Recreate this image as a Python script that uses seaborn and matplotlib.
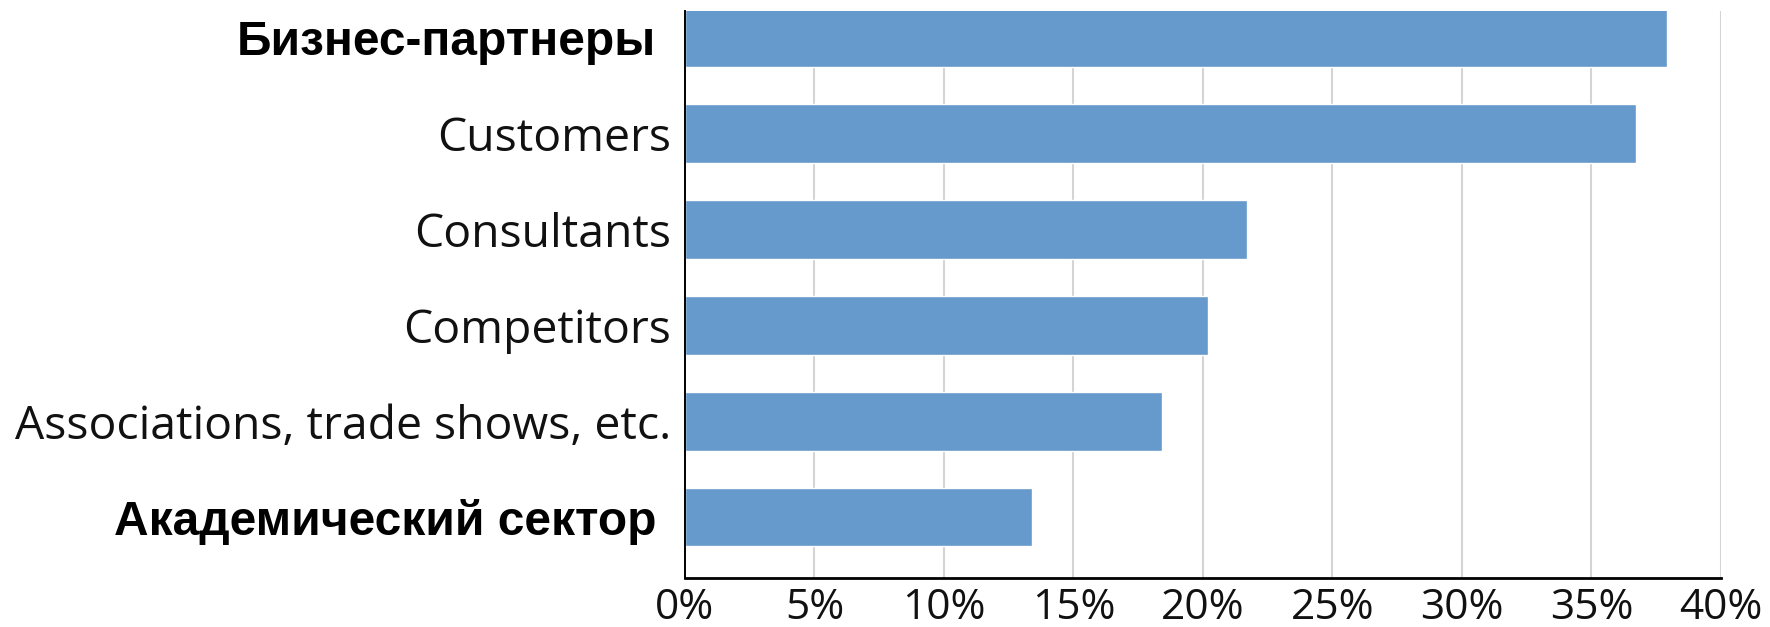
import matplotlib
matplotlib.use("Agg")
import matplotlib.pyplot as plt
import matplotlib.transforms as mtransforms
import seaborn as sns
import pandas as pd

# Sources of innovation ideas, share of respondents
categories = [
    "Бизнес-партнеры",
    "Customers",
    "Consultants",
    "Competitors",
    "Associations, trade shows, etc.",
    "Академический сектор",
]
shares = [37.9, 36.7, 21.7, 20.2, 18.4, 13.4]
x_ticks = [0, 5, 10, 15, 20, 25, 30, 35, 40]
x_tick_labels = [f"{t}%" for t in x_ticks]
bold_labels = {"Бизнес-партнеры", "Академический сектор"}

df = pd.DataFrame({"category": categories, "share": shares})

sns.set_theme(style="white")
plt.rcParams["font.family"] = ["Open Sans", "DejaVu Sans"]

fig = plt.figure(figsize=(17.7, 6.27), dpi=100)
ax = fig.add_axes([0.387, 0.0781, 0.5853, 0.9044])

sns.barplot(data=df, x="share", y="category", orient="h", color="#6699cc",
            saturation=1, width=0.61, ax=ax)

ax.set_xlim(0, 40)
ax.set_ylim(5.635, -0.28)
ax.set_xticks(x_ticks)
ax.set_xticklabels(x_tick_labels)
ax.set_xlabel("")
ax.set_ylabel("")

ax.grid(False)
for t in x_ticks[1:]:
    ax.axvline(t, color="#d4d4d4", lw=1.5, zorder=0)

for side in ("top", "right"):
    ax.spines[side].set_visible(False)
ax.spines["left"].set_color("black")
ax.spines["left"].set_linewidth(1.4)
ax.spines["bottom"].set_color("black")
ax.spines["bottom"].set_linewidth(2.0)

ax.tick_params(axis="x", length=3, width=1, color="black", pad=3.5,
               labelsize=30.5, labelcolor="#111111")
ax.tick_params(axis="y", length=0, pad=10, labelsize=33.3, labelcolor="#111111")

shift = mtransforms.ScaledTranslation(-15 / 100, 0, fig.dpi_scale_trans)
for lab in ax.get_yticklabels():
    if lab.get_text() in bold_labels:
        lab.set_fontfamily(["Liberation Sans", "DejaVu Sans"])
        lab.set_fontweight("bold")
        lab.set_fontsize(34.5)
        lab.set_color("black")
        lab.set_transform(lab.get_transform() + shift)

fig.savefig("out.png", dpi=100)
